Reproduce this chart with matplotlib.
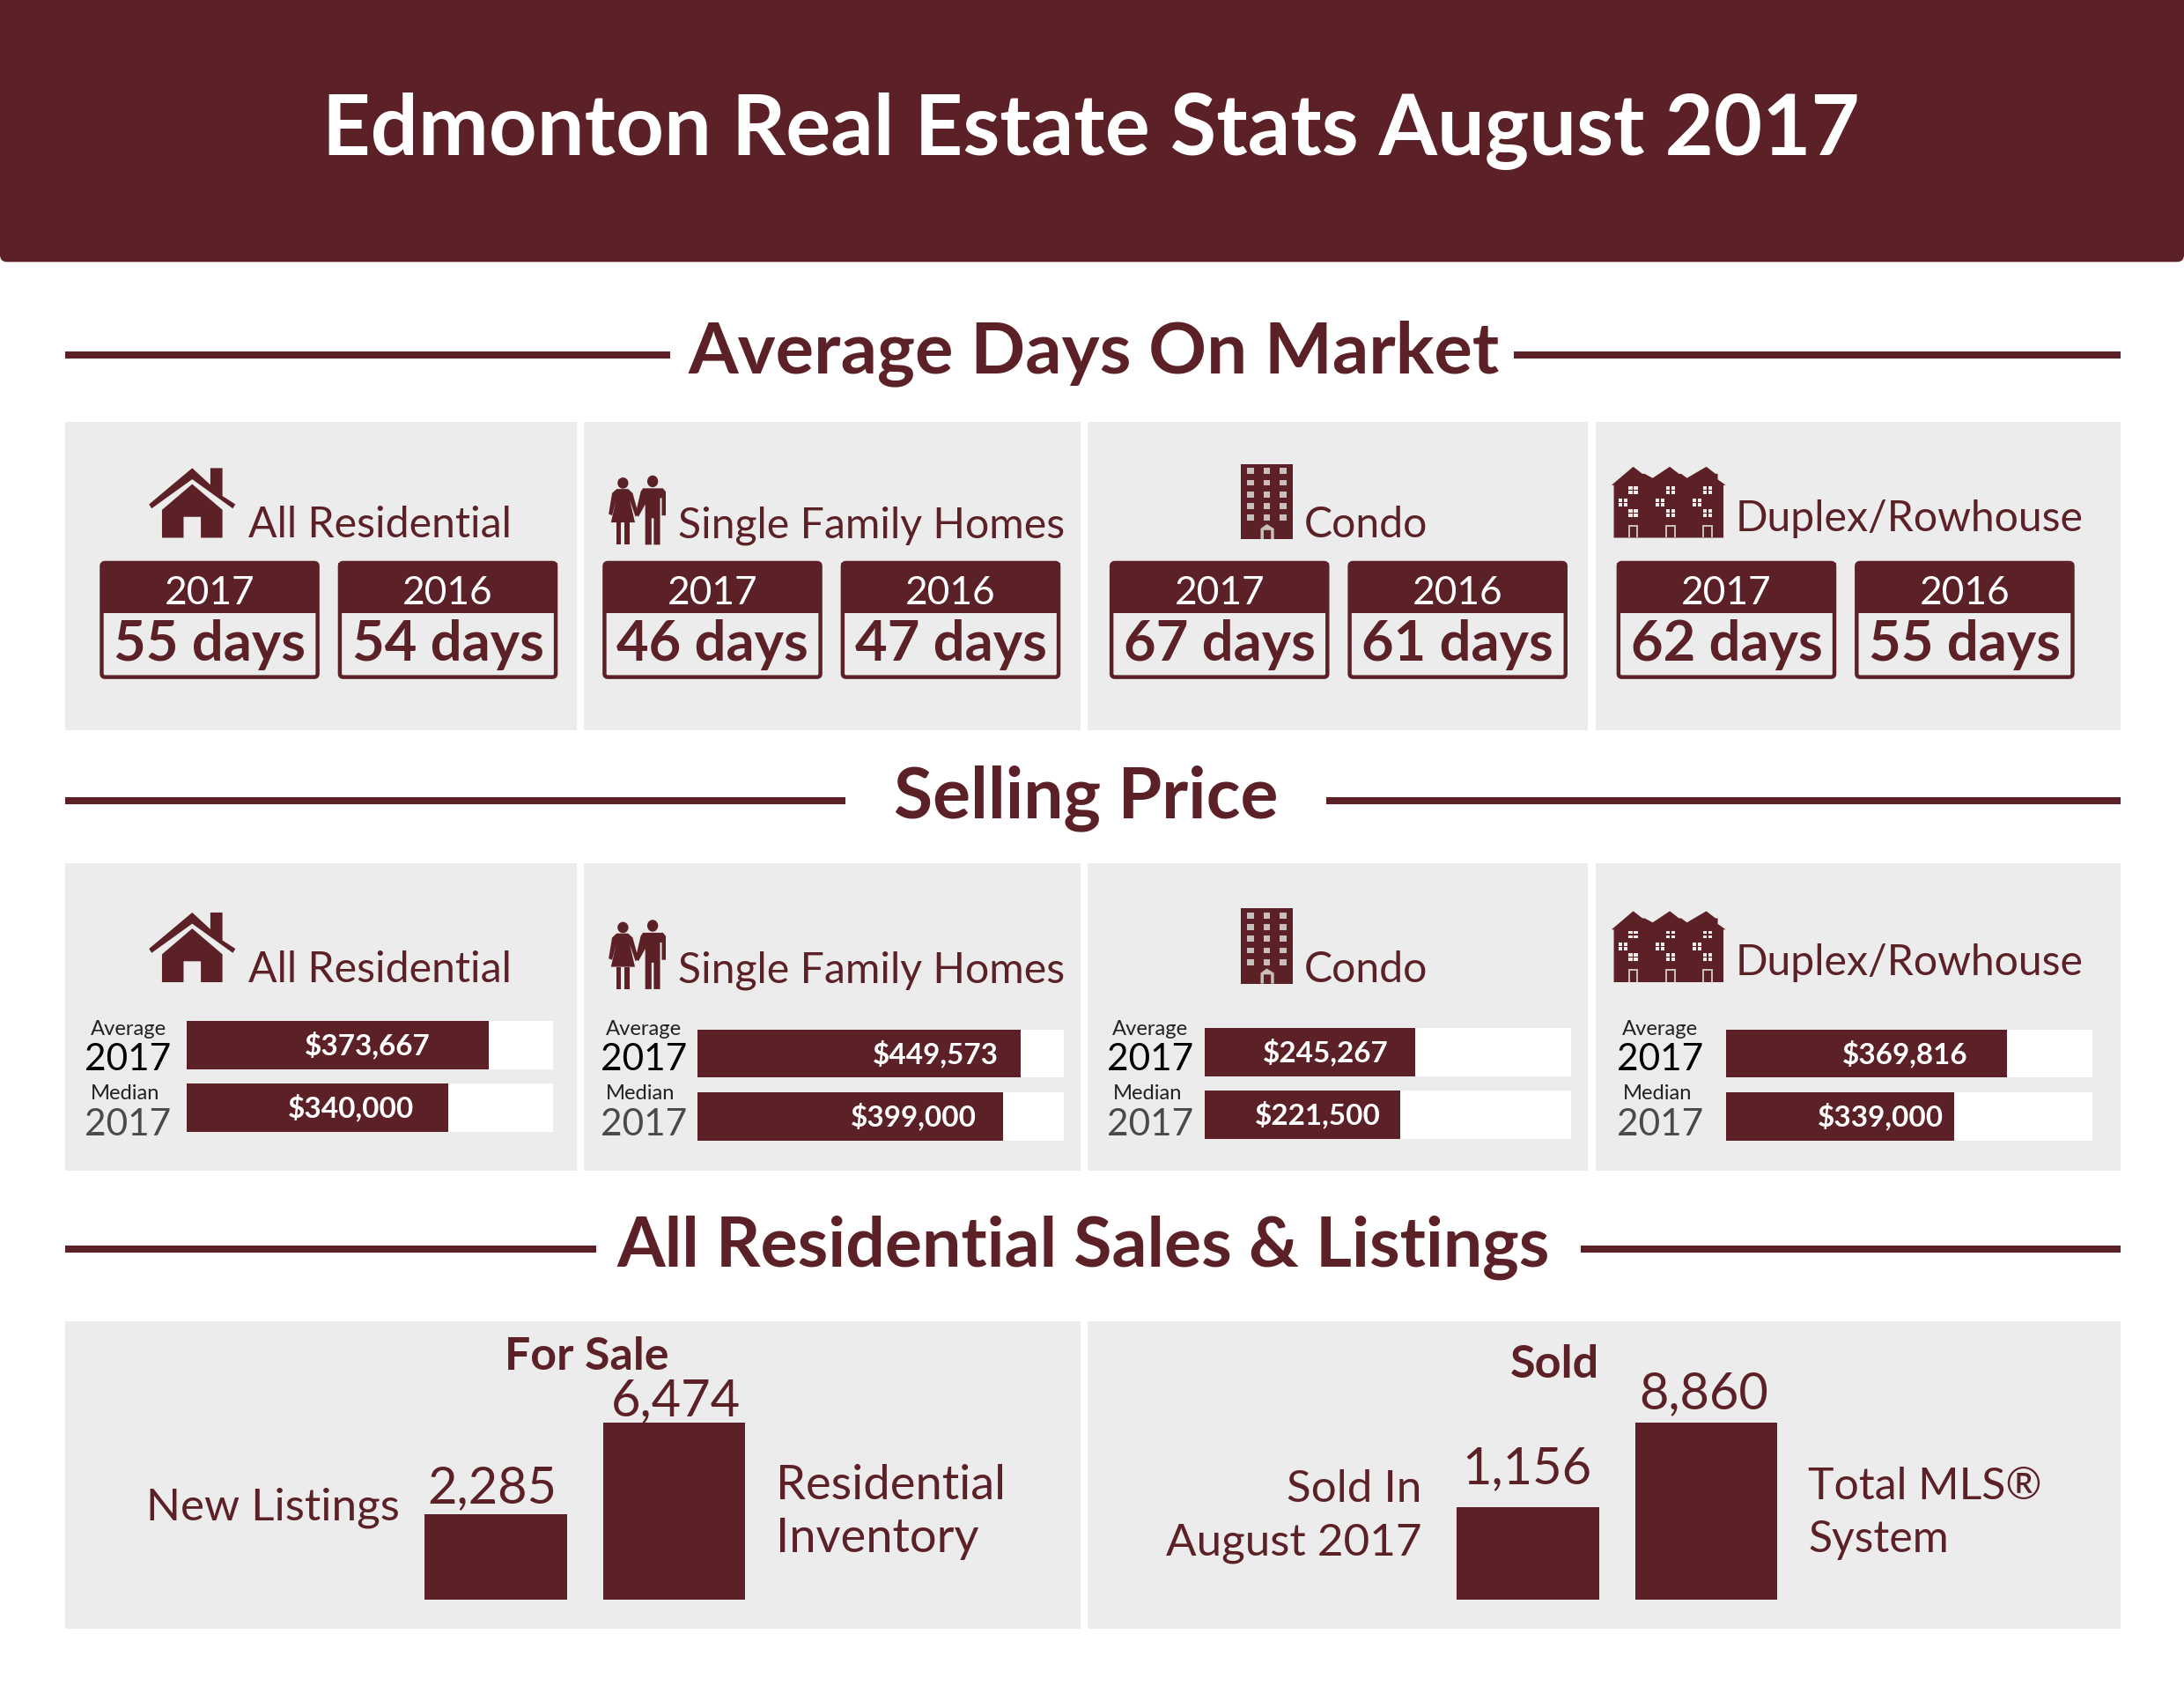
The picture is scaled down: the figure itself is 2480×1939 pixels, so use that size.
import matplotlib
matplotlib.use("Agg")
import matplotlib.pyplot as plt
from matplotlib.patches import Rectangle, FancyBboxPatch, Polygon, Ellipse

# ---------- data ----------
title = "Edmonton Real Estate Stats August 2017"
sections = ["Average Days On Market", "Selling Price", "All Residential Sales & Listings"]
categories = ["All Residential", "Single Family Homes", "Condo", "Duplex/Rowhouse"]
days_2017 = [55, 46, 67, 62]
days_2016 = [54, 47, 61, 55]
price_average = [373667, 449573, 245267, 369816]
price_median = [340000, 399000, 221500, 339000]
# the source's progress bars each have their own full-scale value
average_scale = [452900, 510300, 427200, 481500]
median_scale = [475600, 479200, 416100, 543600]
for_sale_labels = ["New Listings", "Residential\nInventory"]
for_sale_values = [2285, 6474]
for_sale_scale = [4757, 6474]
sold_labels = ["Sold In\nAugust 2017", "Total MLS®\nSystem"]
sold_values = [1156, 8860]
sold_scale = [2224, 8860]
# ---------- style ----------
DARK = "#5B2126"
PANEL = "#ECECEC"
FONT = "Lato"
W, H = 1568, 1226
U = 1.139  # points per layout unit

fig = plt.figure(figsize=(24.8, 19.39), dpi=100, facecolor="white")
ax = fig.add_axes([0, 0, 1, 1])
ax.set_xlim(0, W)
ax.set_ylim(H, 0)
ax.axis("off")


def T(x, y, s, size, color=DARK, weight="normal", ha="center", va="baseline", **kw):
    return ax.text(x, y, s, fontsize=size * U, color=color, fontweight=weight, ha=ha, va=va,
                   family=FONT, zorder=6, **kw)


def R(x0, y0, x1, y1, color=PANEL, z=1):
    ax.add_patch(Rectangle((x0, y0), x1 - x0, y1 - y0, facecolor=color, edgecolor="none", zorder=z))


def sub_axes(x0, y0, x1, y1):
    a = fig.add_axes([x0 / W, 1 - y1 / H, (x1 - x0) / W, (y1 - y0) / H])
    a.axis("off")
    a.margins(0)
    return a


def poly(pts, box, color=DARK, z=3):
    x0, y0, x1, y1 = box
    ax.add_patch(Polygon([(x0 + px * (x1 - x0), y0 + py * (y1 - y0)) for px, py in pts],
                         closed=True, facecolor=color, edgecolor="none", zorder=z))


def house(box):
    poly([(.5, 0), (.71, .24), (.71, 0), (.85, 0), (.85, .40), (1, .52), (.97, .58), (.5, .16),
          (.03, .58), (0, .52)], box)
    poly([(.5, .23), (.85, .60), (.85, 1), (.6, 1), (.6, .70), (.4, .70), (.4, 1), (.15, 1), (.15, .6)], box)


def couple(box):
    x0, y0, x1, y1 = box
    w, h = x1 - x0, y1 - y0
    ax.add_patch(Ellipse((x0 + .25 * w, y0 + .115 * h), .19 * w, .16 * h, facecolor=DARK, zorder=3))
    ax.add_patch(Ellipse((x0 + .77 * w, y0 + .09 * h), .19 * w, .17 * h, facecolor=DARK, zorder=3))
    poly([(.14, .20), (.34, .20), (.42, .26), (.52, .56), (.47, .60), (.37, .36), (.46, .68), (.04, .68),
          (.13, .36), (.06, .58), (0, .56), (.06, .26)], box)
    poly([(.13, .68), (.22, .68), (.22, 1), (.13, 1)], box)
    poly([(.27, .68), (.36, .68), (.36, 1), (.27, 1)], box)
    poly([(.60, .19), (.95, .19), (1, .24), (1, .58), (.93, .58), (.93, .33), (.90, .33), (.90, 1), (.79, 1),
          (.79, .62), (.75, .62), (.75, 1), (.64, 1), (.64, .42), (.52, .60), (.47, .56), (.56, .24)], box)


def building(box):
    x0, y0, x1, y1 = box
    R(x0, y0, x1, y1, DARK, 3)
    w, h = x1 - x0, y1 - y0
    for r in range(5):
        for c in range(3):
            cx = x0 + (.18 + .32 * c) * w
            cy = y0 + (.095 + .155 * r) * h
            R(cx - .065 * w, cy - .04 * h, cx + .065 * w, cy + .04 * h, "#C9BDBE", 4)
    poly([(.38, 1), (.38, .86), (.5, .80), (.64, .86), (.64, 1), (.58, 1), (.58, .88), (.44, .88), (.44, 1)],
         box, "#C9BDBE", 4)


def rowhouses(box):
    x0, y0, x1, y1 = box
    w, h = x1 - x0, y1 - y0
    poly([(.02, 1), (.02, .26), (0, .26), (.19, 0), (.27, .10), (.29, .10), (.29, .10), (.36, .16), (.51, 0),
          (.59, .10), (.61, .10), (.66, .16), (.83, 0), (.91, .10), (.93, .10), (.93, .18), (1, .26), (.98, .26),
          (.98, 1)], box)
    for c in range(3):
        for r, dx, yy in ((0, .19, .33), (1, .10, .50), (2, .19, .65)):
            cx = x0 + (dx + .325 * c) * w
            cy = y0 + yy * h
            R(cx - .04 * w, cy - .055 * h, cx + .04 * w, cy + .055 * h, PANEL, 4)
            R(cx - .006 * w, cy - .055 * h, cx + .006 * w, cy + .055 * h, DARK, 5)
            R(cx - .04 * w, cy - .008 * h, cx + .04 * w, cy + .008 * h, DARK, 5)
        dc = x0 + (.19 + .325 * c) * w
        R(dc - .045 * w, y0 + .82 * h, dc + .045 * w, y1, "#C9BDBE", 4)
        R(dc - .03 * w, y0 + .84 * h, dc + .03 * w, y1, DARK, 5)


# ---------- header ----------
ax.add_patch(FancyBboxPatch((0, -20), W, 208, boxstyle="round,pad=0,rounding_size=5",
                            facecolor=DARK, edgecolor="none", zorder=2))
T(783, 111, title, 60.3, color="white", weight="bold")

# ---------- section headings ----------
for s, size, cx, ty, ly, l_end, r_start in ((sections[0], 51.5, 785, 268, 254.5, 481, 1087),
                                            (sections[1], 50.8, 780, 587, 574.5, 607, 952),
                                            (sections[2], 49.8, 778, 909, 896.5, 428, 1135)):
    T(cx, ty, s, size, weight="bold")
    ax.plot([47, l_end], [ly, ly], color=DARK, lw=5.8, solid_capstyle="butt", zorder=3)
    ax.plot([r_start, 1522.5], [ly, ly], color=DARK, lw=5.8, solid_capstyle="butt", zorder=3)

# ---------- panels ----------
columns = [(47, 414), (419, 776), (781, 1140), (1145.5, 1522.5)]
for (a, b) in columns:
    R(a, 303, b, 524)
    R(a, 619.5, b, 840)
R(47, 948.5, 776, 1169)
R(781, 948.5, 1522.5, 1169)

label_x = [178, 487, 936, 1246]
label_base = [386, 386, 386, 381]
for off in (0, 319):
    house((107, 336 + off, 169, 386 + off))
    couple((437, 341 + off, 478, 391 + off))
    building((891, 333 + off, 928, 387 + off))
    rowhouses((1157, 335 + off, 1239, 386 + off))
    for i, c in enumerate(categories):
        T(label_x[i], label_base[i] + off, c, 30.4, ha="left")

# ---------- days-on-market cards ----------
card_x = [(72, 243), (433, 604), (797, 968), (1161, 1332)]
for i, (a, b) in enumerate(card_x):
    for x0, yr, val in ((a, "2017", days_2017[i]), (b, "2016", days_2016[i])):
        ax.add_patch(FancyBboxPatch((x0 + 1, 404), 155, 82, boxstyle="round,pad=0,rounding_size=2.5",
                                    facecolor=PANEL, edgecolor=DARK, lw=3.2, zorder=3))
        R(x0, 404, x0 + 157, 440, DARK, 4)
        T(x0 + 78.5, 434, yr, 28, color="white")
        T(x0 + 78.5, 474, f"{val} days", 40, weight="bold")

# ---------- price bars ----------
track_x = [134, 501, 865, 1239]
avg_y = [733, 739, 738, 739]
med_y = [778, 784, 783, 784]
lab_x = [92, 462, 826, 1192]
avg_lab = [264, 672, 952, 1368]
med_lab = [252, 656, 946, 1350]
for i in range(4):
    for y, v, scale, lx in ((avg_y[i], price_average[i], average_scale[i], avg_lab[i]),
                            (med_y[i], price_median[i], median_scale[i], med_lab[i])):
        a = sub_axes(track_x[i], y, track_x[i] + 263, y + 34.5)
        a.barh(0, scale, height=1, color="white", edgecolor="none")
        a.barh(0, v, height=1, color=DARK, edgecolor="none")
        a.set_xlim(0, scale)
        a.set_ylim(-.5, .5)
        a.text((lx - track_x[i]) / 263 * scale, 0, f"${v:,}", fontsize=21 * U, color="white",
               fontweight="bold", ha="center", va="center", family=FONT)
    T(lab_x[i], 743, "Average", 15, color="#222222")
    T(lab_x[i], 768, "2017", 26.8, color="black")
    T(lab_x[i] - 2, 789, "Median", 15, color="#222222")
    T(lab_x[i], 815, "2017", 26.8, color="#4A4A4A")

# ---------- sales and listings ----------
floor = 1148
full = 127
groups = [
    (for_sale_values, for_sale_scale, [(305, 407), (433, 535)], [353, 485], [1079, 1016]),
    (sold_values, sold_scale, [(1046, 1148), (1174, 1276)], [1096, 1223], [1065, 1011]),
]
for values, scales, spans, lxs, lys in groups:
    for v, sc, (x0, x1), lx, ly in zip(values, scales, spans, lxs, lys):
        a = sub_axes(x0, floor - full, x1, floor)
        a.bar(0, v, width=1, color=DARK, edgecolor="none")
        a.set_xlim(-.5, .5)
        a.set_ylim(0, sc)
        T(lx, ly, f"{v:,}", 36.5)

T(421, 983, "For Sale", 32.8, weight="bold")
T(1116, 989, "Sold", 33, weight="bold")
T(105, 1091, for_sale_labels[0], 32.3, ha="left")
for j, s in enumerate(for_sale_labels[1].split("\n")):
    T(557, 1076 + 38 * j, s, 34.3, ha="left")
for j, s in enumerate(sold_labels[0].split("\n")):
    T(1021, 1078 + 38 * j, s, 32.3, ha="right")
for j, s in enumerate(sold_labels[1].split("\n")):
    T(1298, 1076 + 38 * j, s, 31.5, ha="left")

fig.savefig("out.png", dpi=100, facecolor="white")
